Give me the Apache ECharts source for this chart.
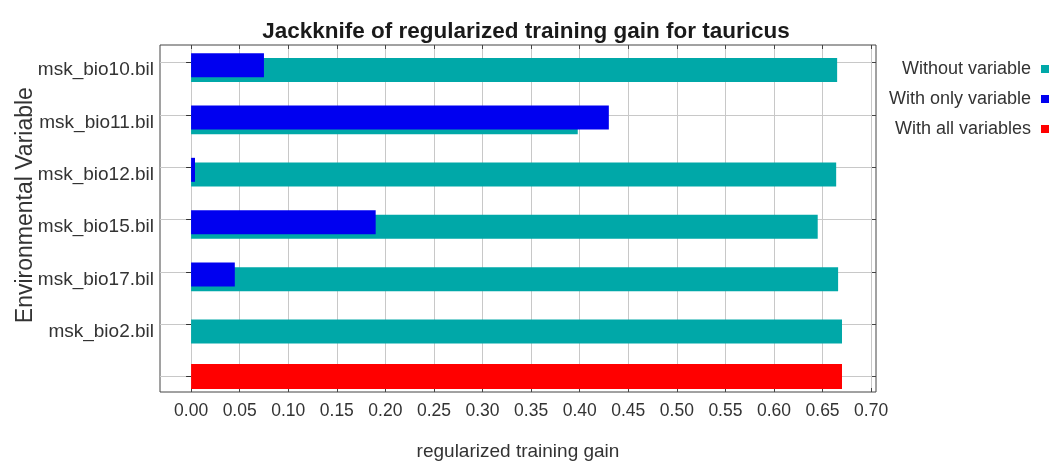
<!DOCTYPE html>
<html>
<head>
<meta charset="utf-8">
<script src="https://cdn.jsdelivr.net/npm/echarts@6/dist/echarts.min.js"></script>
<style>
  html, body { margin: 0; padding: 0; background: #ffffff; }
  #chart { width: 1052px; height: 462px; }
</style>
</head>
<body>
<div id="chart"></div>
<script>
// Jackknife of regularized training gain (MaxEnt) for tauricus
const variables = ['msk_bio10.bil', 'msk_bio11.bil', 'msk_bio12.bil', 'msk_bio15.bil', 'msk_bio17.bil', 'msk_bio2.bil', ''];
const withoutVariable = [0.665, 0.398, 0.664, 0.645, 0.666, 0.670, null];
const withOnlyVariable = [0.075, 0.430, 0.004, 0.190, 0.045, 0.000, null];
const withAllVariables = [null, null, null, null, null, null, 0.670];
const gainTicks = [0, 0.05, 0.10, 0.15, 0.20, 0.25, 0.30, 0.35, 0.40, 0.45, 0.50, 0.55, 0.60, 0.65, 0.70];
const seriesNames = ['Without variable', 'With only variable', 'With all variables'];

const FONT = '"Liberation Sans", Arial, sans-serif';
const TEAL = '#00a8a8', BLUE = '#0000f0', RED = '#ff0000';
const X_MIN = -0.032, X_MAX = 0.705;

const chart = echarts.init(document.getElementById('chart'), null, { renderer: 'canvas' });

const fmt = v => Number(v).toFixed(2);

chart.setOption({
  backgroundColor: '#ffffff',
  animation: false,
  title: {
    text: 'Jackknife of regularized training gain for tauricus',
    left: 'center',
    top: 15,
    textStyle: { fontFamily: FONT, fontSize: 22.5, fontWeight: 'bold', color: '#1a1a1a' }
  },
  legend: {
    data: seriesNames,
    orient: 'vertical',
    right: 3,
    top: 60,
    padding: 0,
    align: 'right',
    icon: 'rect',
    itemWidth: 8,
    itemHeight: 8,
    itemGap: 12,
    textStyle: { fontFamily: FONT, fontSize: 18, color: '#333', padding: [0, 5, 0, 0] }
  },
  grid: [
    // plot frame with the value-axis gridlines
    { left: 160, right: 176, top: 45, bottom: 70, outerBoundsMode: 'none', show: true, borderColor: '#444', borderWidth: 1, backgroundColor: 'transparent' },
    // category rows
    { left: 160, right: 176, top: 62.7, bottom: 85.4, outerBoundsMode: 'none' }
  ],
  xAxis: [
    {
      gridIndex: 0, type: 'value', position: 'bottom', min: X_MIN, max: X_MAX,
      name: 'regularized training gain', nameLocation: 'middle', nameGap: 50,
      nameTextStyle: { fontFamily: FONT, fontSize: 19, color: '#333' },
      axisLine: { show: false },
      axisTick: { show: true, inside: true, length: 4, customValues: gainTicks, lineStyle: { color: '#444' } },
      axisLabel: { customValues: gainTicks, formatter: fmt, margin: 10, fontFamily: FONT, fontSize: 17.5, color: '#333' },
      splitLine: { show: true, lineStyle: { color: '#c8c8c8', width: 1 } }
    },
    {
      gridIndex: 0, type: 'value', position: 'top', min: X_MIN, max: X_MAX,
      axisLine: { show: false },
      axisTick: { show: true, inside: true, length: 4, customValues: gainTicks, lineStyle: { color: '#444' } },
      axisLabel: { show: false },
      splitLine: { show: false }
    },
    { gridIndex: 1, type: 'value', min: X_MIN, max: X_MAX, show: false }
  ],
  yAxis: [
    { gridIndex: 0, type: 'value', show: false },
    {
      gridIndex: 1, type: 'category', data: variables, inverse: true, boundaryGap: false,
      name: 'Environmental Variable', nameLocation: 'middle', nameGap: 123, nameMoveOverlap: false,
      nameTextStyle: { fontFamily: FONT, fontSize: 23, color: '#333', padding: [0, 0, 0, 29] },
      axisLine: { show: false },
      axisTick: { show: true, length: 5, lineStyle: { color: '#333' } },
      axisLabel: { margin: 6, fontFamily: FONT, fontSize: 19, color: '#333', verticalAlign: 'top', lineHeight: 15 },
      splitLine: { show: true, lineStyle: { color: '#c8c8c8', width: 1 } }
    },
    {
      gridIndex: 1, type: 'category', data: variables, inverse: true, boundaryGap: false, position: 'right',
      axisLine: { show: false },
      axisTick: { show: true, inside: true, length: 4, lineStyle: { color: '#444' } },
      axisLabel: { show: false },
      splitLine: { show: false }
    },
    { gridIndex: 1, type: 'category', data: variables, inverse: true, boundaryGap: false, show: false }
  ],
  series: [
    {
      name: 'With only variable', type: 'bar', xAxisIndex: 2, yAxisIndex: 1,
      data: withOnlyVariable, barWidth: 24, barGap: '-80.4%', clip: false, z: 3,
      itemStyle: { color: BLUE }
    },
    {
      name: 'Without variable', type: 'bar', xAxisIndex: 2, yAxisIndex: 1,
      data: withoutVariable, barWidth: 24, clip: false, z: 2,
      itemStyle: { color: TEAL }
    },
    {
      // empty slot that sets the paired bars' offset within each row
      name: 'spacing', type: 'bar', xAxisIndex: 2, yAxisIndex: 1,
      data: [], barWidth: 9.6, clip: false, silent: true
    },
    {
      name: 'With all variables', type: 'bar', xAxisIndex: 2, yAxisIndex: 3,
      data: withAllVariables, barWidth: 25, clip: false, z: 2,
      itemStyle: { color: RED }
    }
  ]
});
</script>
</body>
</html>
